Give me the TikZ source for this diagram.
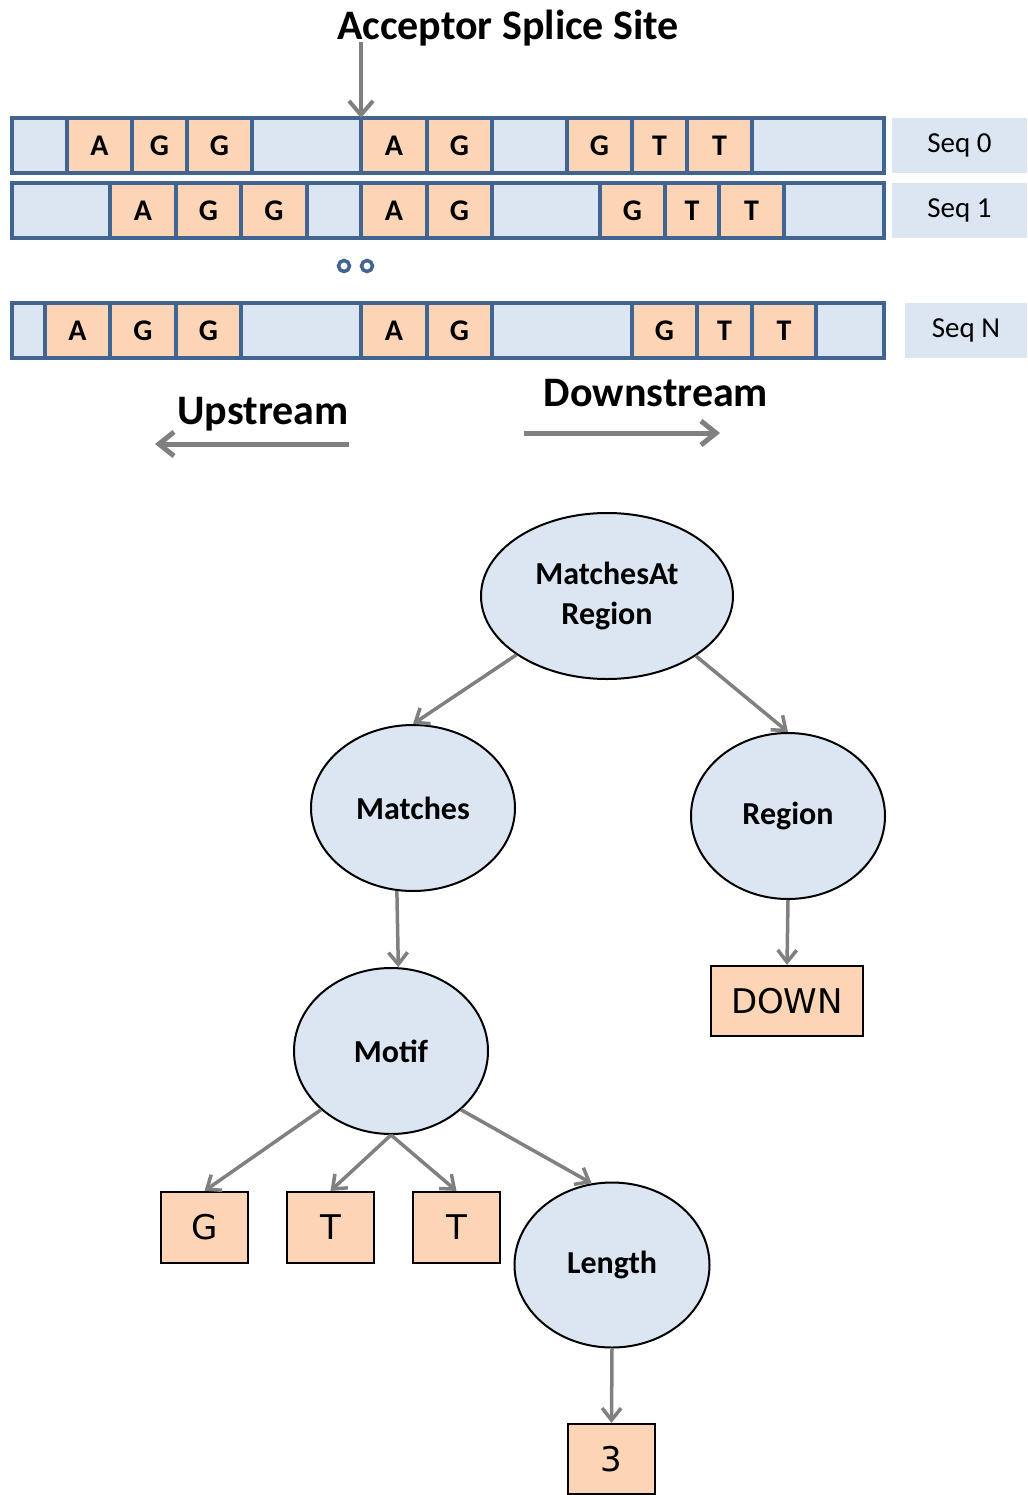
\documentclass[tikz,border=0pt]{standalone}
\usepackage{fontspec}
\usetikzlibrary{shapes.geometric,arrows.meta}
\newfontfamily\calfont{Carlito}
\newfontfamily\dvfont{DejaVu Sans}
\definecolor{cellline}{RGB}{65,100,145}
\definecolor{cellblue}{RGB}{220,230,242}
\definecolor{cellorange}{RGB}{251,213,181}
\definecolor{arrowgray}{RGB}{128,128,128}
\tikzset{
  cell/.style={draw=cellline, line width=3.5pt, minimum height=55pt, inner sep=0pt,
    outer sep=0pt, anchor=north west, font=\calfont\bfseries\fontsize{30}{30}\selectfont},
  cb/.style={cell, fill=cellblue},
  co/.style={cell, fill=cellorange},
  seqlabel/.style={fill=cellblue, minimum height=55pt, inner sep=0pt, outer sep=0pt,
    anchor=north west, font=\calfont\fontsize{29}{29}\selectfont},
  dotmark/.style={circle, draw=cellline, fill=white, line width=3.5pt, minimum size=11pt, inner sep=0pt},
  garrow/.style={draw=arrowgray, line width=3.5pt, -{Straight Barb[length=12pt,width=19pt]}},
  bigarrow/.style={draw=arrowgray, line width=5pt, -{Straight Barb[length=15pt,width=24pt]}},
  heading/.style={font=\calfont\bfseries\fontsize{42}{42}\selectfont, inner sep=0pt},
  ell/.style={ellipse, draw=black, line width=2pt, fill=cellblue, inner sep=0pt,
    align=center, font=\calfont\bfseries\fontsize{32}{40}\selectfont},
  leaf/.style={rectangle, draw=black, line width=2.2pt, fill=cellorange, inner sep=0pt,
    font=\dvfont\fontsize{34}{34}\selectfont}
}
\begin{document}
\begin{tikzpicture}[x=1pt,y=-1pt]
\useasboundingbox (0,0) rectangle (1027,1495);

% ---- sequence rows ----
\foreach \a/\b/\t/\s [count=\i] in {12/67/{}/cb,67/132/A/co,132/187/G/co,187/252/G/co,
    252/361/{}/cb,361/427/A/co,427/492/G/co,492/567/{}/cb,567/632/G/co,632/687/T/co,
    687/752/T/co,752/884/{}/cb}
  \node[\s, minimum width={(\b-\a)*1pt}] (ra\i) at (\a,118) {\t};
\foreach \a/\b/\t/\s [count=\i] in {12/110/{}/cb,110/176/A/co,176/241/G/co,241/307/G/co,
    307/361/{}/cb,361/427/A/co,427/492/G/co,492/600/{}/cb,600/665/G/co,665/719/T/co,
    719/784/T/co,784/884/{}/cb}
  \node[\s, minimum width={(\b-\a)*1pt}] (rb\i) at (\a,183) {\t};
\foreach \a/\b/\t/\s [count=\i] in {12/45/{}/cb,45/110/A/co,110/176/G/co,176/241/G/co,
    241/361/{}/cb,361/427/A/co,427/492/G/co,492/632/{}/cb,632/697/G/co,697/752/T/co,
    752/816/T/co,816/884/{}/cb}
  \node[\s, minimum width={(\b-\a)*1pt}] (rn\i) at (\a,303) {\t};

\draw[cellline, line width=3.5pt, rounded corners=2pt] (ra1.north west) rectangle (ra12.south east);
\draw[cellline, line width=3.5pt, rounded corners=2pt] (rb1.north west) rectangle (rb12.south east);
\draw[cellline, line width=3.5pt, rounded corners=2pt] (rn1.north west) rectangle (rn12.south east);

% ---- sequence labels ----
\node[seqlabel, minimum width=135pt] (seq0) at (892,118) {Seq 0};
\node[seqlabel, minimum width=135pt] (seq1) at (892,183) {Seq 1};
\node[seqlabel, minimum width=122pt] (seqn) at (905,303) {Seq N};

% ---- ellipsis dots ----
\node[dotmark] (dota) at (344,266) {};
\node[dotmark] (dotb) at (367,266) {};

% ---- splice site marker ----
\node[heading] (title) at (508,28) {Acceptor Splice Site};
\coordinate (acctop) at (361,42);
\draw[bigarrow, line width=4pt, -{Straight Barb[length=14pt,width=24pt]}] (acctop) -- (ra6.north west);

% ---- direction arrows ----
\node[heading] (up) at (263,414) {Upstream};
\node[heading] (down) at (656,393) {Downstream};
\coordinate (upa) at (349,444);
\coordinate (upb) at (155,444);
\coordinate (downa) at (524,433);
\coordinate (downb) at (720,433);
\draw[bigarrow] (upa) -- (upb);
\draw[bigarrow] (downa) -- (downb);

% ---- tree ----
\node[ell, minimum width=252pt, minimum height=166pt] (mar) at (607,596) {MatchesAt\\Region};
\node[ell, minimum width=204pt, minimum height=166pt] (mat) at (413,808) {Matches};
\node[ell, minimum width=194pt, minimum height=166pt] (reg) at (788,816) {Region};
\node[ell, minimum width=194pt, minimum height=166pt] (mot) at (391,1051) {Motif};
\node[ell, minimum width=195pt, minimum height=165pt] (len) at (612,1265) {Length};

\node[leaf, minimum width=152pt, minimum height=70pt] (dn) at (787,1001) {DOWN};
\node[leaf, minimum width=87pt, minimum height=71pt] (lg) at (204.5,1227.5) {G};
\node[leaf, minimum width=87pt, minimum height=71pt] (lt1) at (330.5,1227.5) {T};
\node[leaf, minimum width=87pt, minimum height=71pt] (lt2) at (456.5,1227.5) {T};
\node[leaf, minimum width=87pt, minimum height=70pt] (l3) at (611.5,1459) {3};

\draw[garrow] (mar.213.7) -- (mat.north);
\draw[garrow] (mar.326.3) -- (reg.north);
\draw[garrow] (mat.259.6) -- (mot.85);
\draw[garrow] (reg.south) -- (dn.north);
\draw[garrow] (mot.220.5) -- (lg.north);
\draw[garrow] (mot.south) -- (lt1.north);
\draw[garrow] (mot.south) -- (lt2.north);
\draw[garrow] (mot.320) -- (len.104);
\draw[garrow] (len.south) -- (l3.north);
\end{tikzpicture}
\end{document}
